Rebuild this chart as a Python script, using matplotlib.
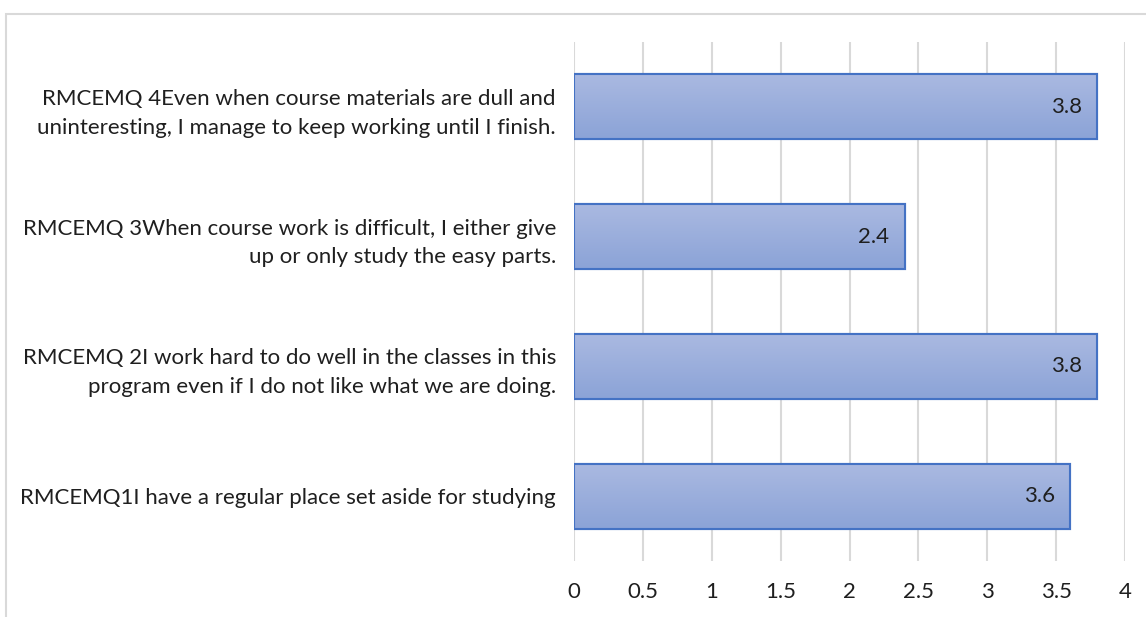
import matplotlib.pyplot as plt
import numpy as np
from matplotlib.patches import Rectangle
from matplotlib.colors import LinearSegmentedColormap

# data (bottom to top, as drawn)
labels = [
    "RMCEMQ1I have a regular place set aside for studying",
    "RMCEMQ 2I work hard to do well in the classes in this\nprogram even if I do not like what we are doing.",
    "RMCEMQ 3When course work is difficult, I either give\nup or only study the easy parts.",
    "RMCEMQ 4Even when course materials are dull and\nuninteresting, I manage to keep working until I finish.",
]
values = [3.6, 3.8, 2.4, 3.8]
xticks = [0, 0.5, 1, 1.5, 2, 2.5, 3, 3.5, 4]

plt.rcParams['font.family'] = ['Lato', 'DejaVu Sans']
text_color = '#1f1f1f'
fs = 16

fig = plt.figure(figsize=(11.46, 6.17), dpi=100)
ax = fig.add_axes([0.5009, 0.0908, 0.4808, 0.8411])

# outer chart border (top and left visible)
fig.patches.append(Rectangle((6 / 1146, -0.1), 1.2, 1 - 13.5 / 617 + 0.1,
                             transform=fig.transFigure, fill=False,
                             edgecolor='#d9d9d9', linewidth=1.5))

y = np.arange(len(values))
bars = ax.barh(y, values, height=0.5, color='#9aadde', edgecolor='#4472c4',
               linewidth=1.5, zorder=3)

# vertical gradient inside each bar
grad = np.linspace(0, 1, 256).reshape(-1, 1)
cmap = LinearSegmentedColormap.from_list('g', ['#8ba3d7', '#aab9e1'])
for b in bars:
    x0, y0 = b.get_x(), b.get_y()
    w, h = b.get_width(), b.get_height()
    im = ax.imshow(grad, extent=[x0, x0 + w, y0, y0 + h], aspect='auto',
                   cmap=cmap, origin='lower', zorder=3.5)
    im.set_clip_path(b)
    ax.add_patch(Rectangle((x0, y0), w, h, fill=False, edgecolor='#4472c4',
                           linewidth=1.5, zorder=4))

for b, v in zip(bars, values):
    ax.annotate(f"{v}", (v, b.get_y() + b.get_height() / 2), xytext=(-11, 0),
                textcoords='offset points', ha='right', va='center',
                fontsize=fs, color=text_color, zorder=5)

ax.set_xlim(0, 4)
ax.set_ylim(-0.5, len(values) - 0.5)
ax.set_xticks(xticks)
ax.set_xticklabels([f"{t:g}" for t in xticks])
ax.set_yticks(y)
ax.set_yticklabels(labels, linespacing=1.55)
ax.tick_params(axis='both', length=0, labelsize=fs, colors=text_color)
ax.tick_params(axis='x', pad=15)
ax.tick_params(axis='y', pad=13)
ax.xaxis.grid(True, color='#d9d9d9', linewidth=1.5, zorder=0)
ax.set_axisbelow(True)
for s in ax.spines.values():
    s.set_visible(False)

fig.savefig('out.png', dpi=100)
